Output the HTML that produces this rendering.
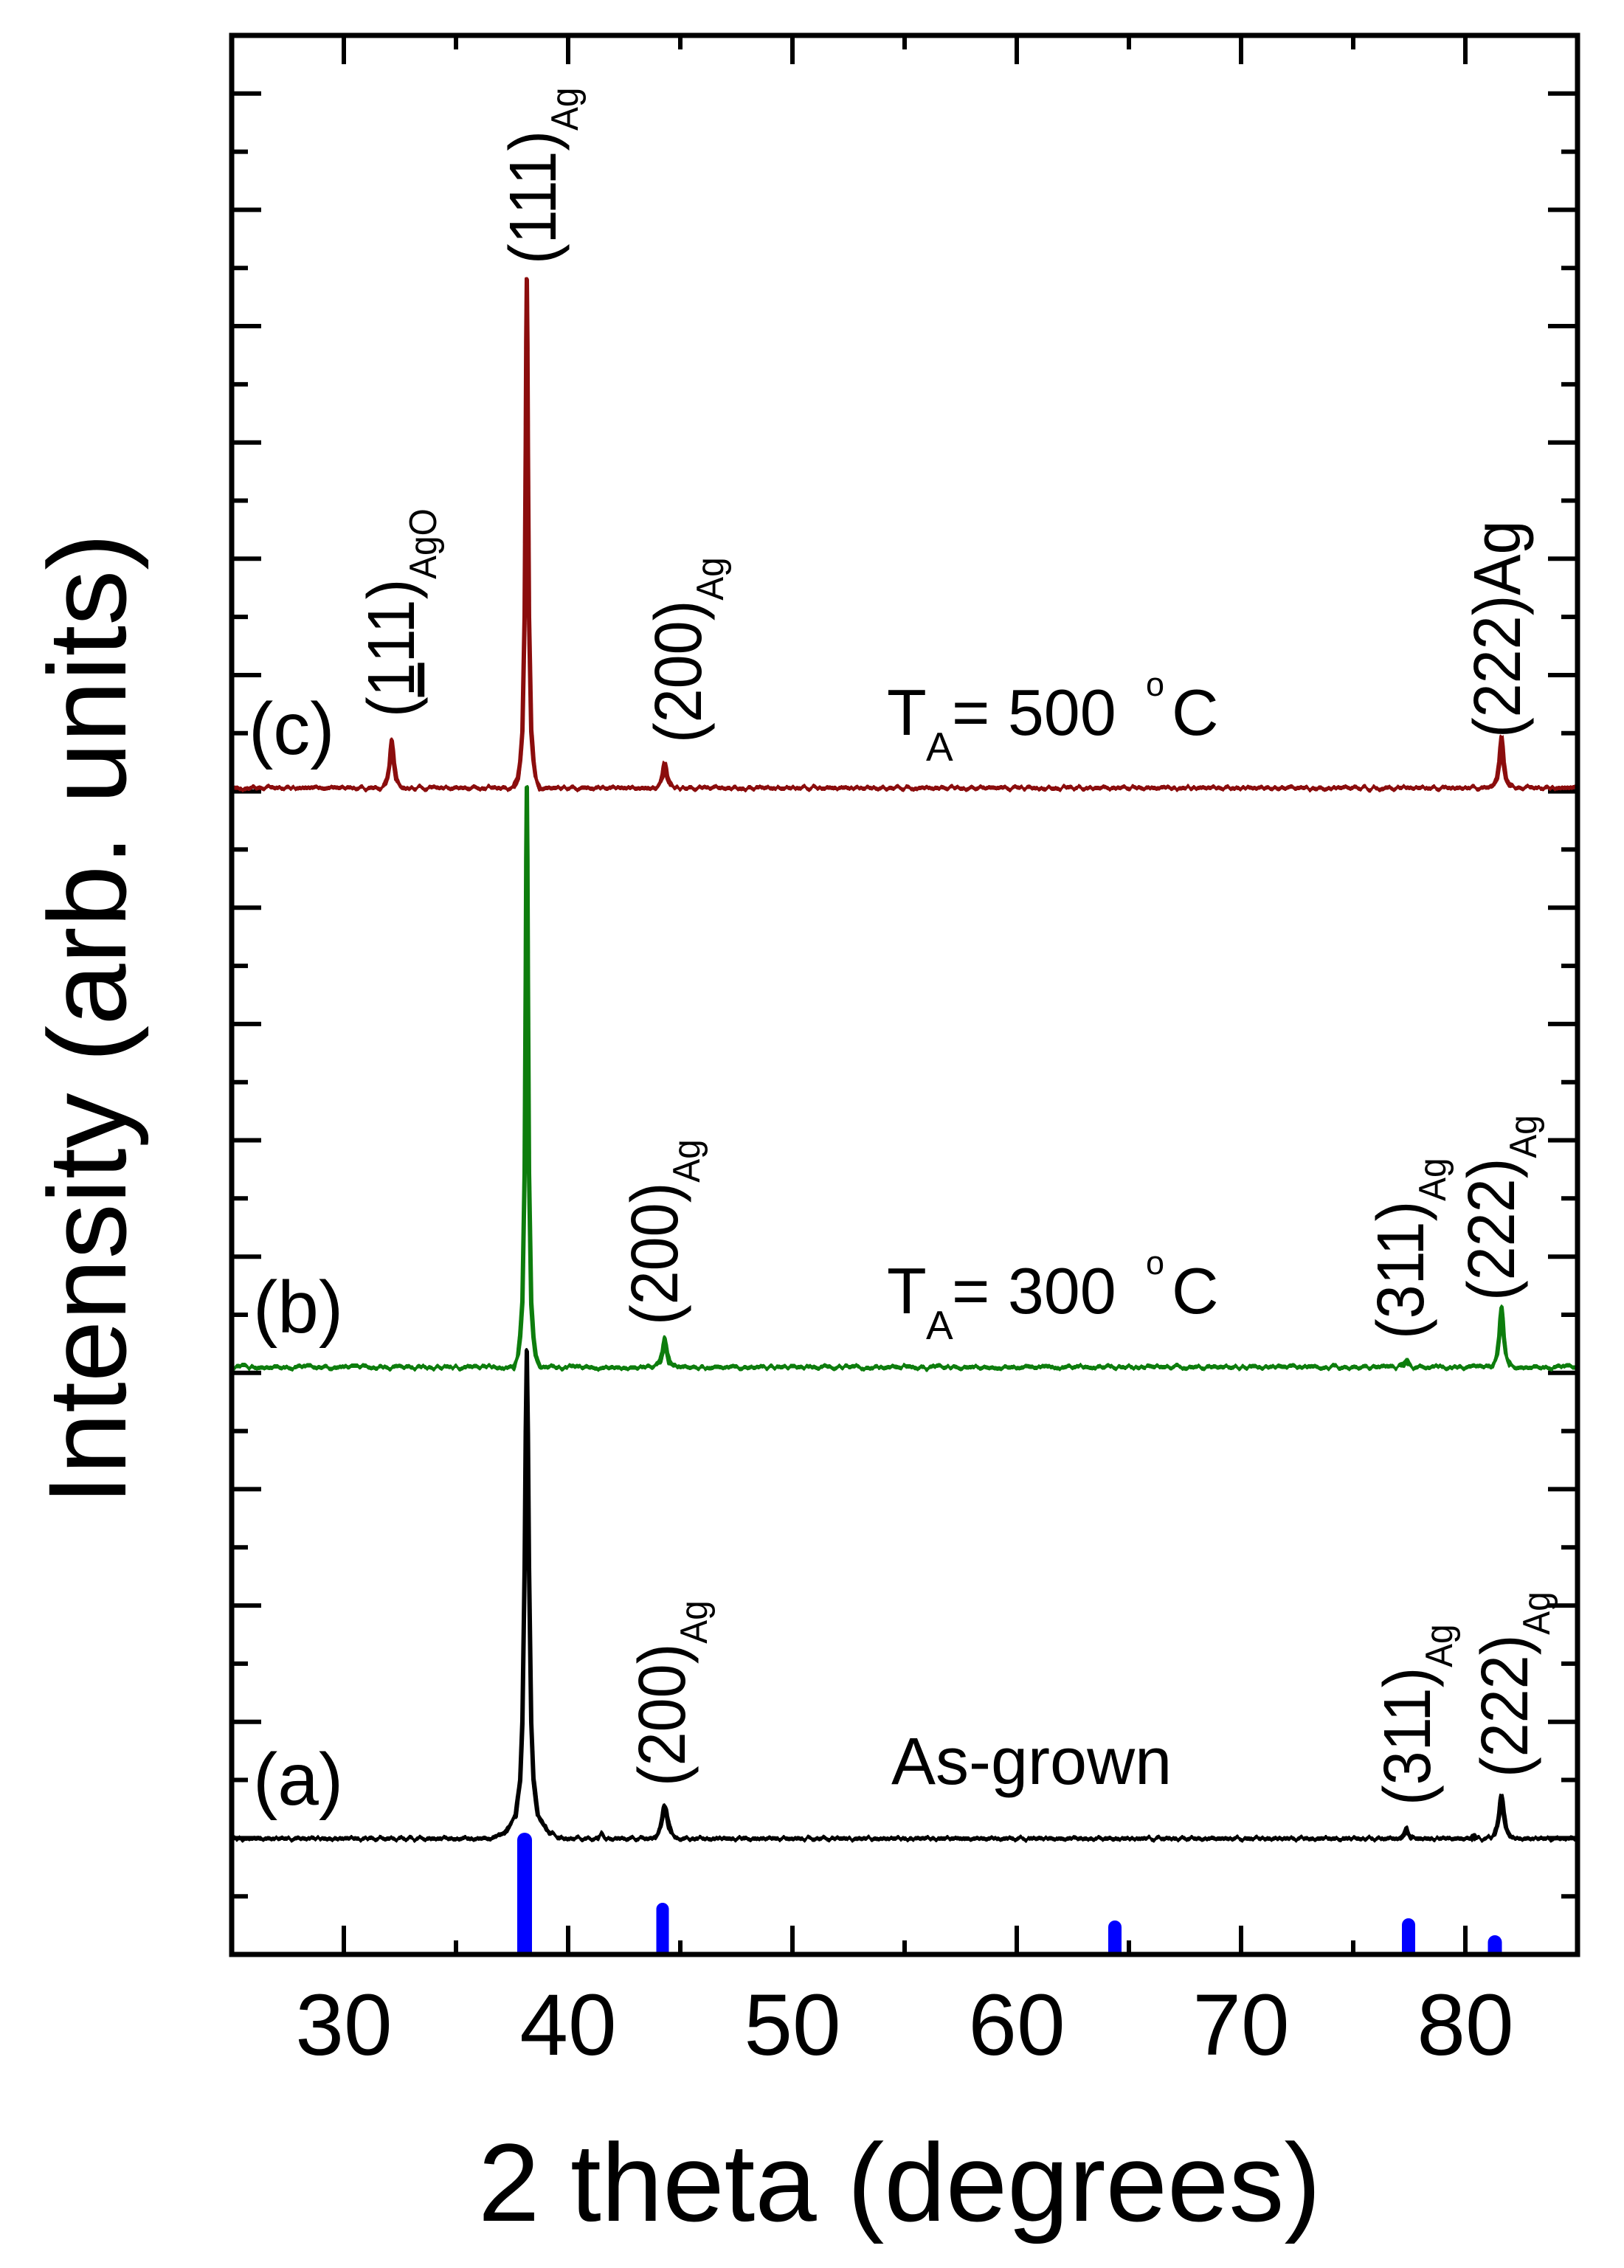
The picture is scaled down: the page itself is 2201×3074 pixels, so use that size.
<!DOCTYPE html>
<html><head><meta charset="utf-8"><style>
html,body{margin:0;padding:0;background:#fff;}
svg{display:block;font-family:"Liberation Sans",Arial,sans-serif;}
</style></head><body>
<svg width="2201" height="3074" viewBox="0 0 2201 3074" xmlns="http://www.w3.org/2000/svg">
<defs>
<filter id="n" filterUnits="userSpaceOnUse" x="0" y="0" width="2201" height="3074">
<feTurbulence type="fractalNoise" baseFrequency="0.15 0.002" numOctaves="2" seed="3" result="t"/>
<feColorMatrix in="t" type="matrix" values="0 0 0 0 0.5  1 0 0 0 0  0 0 0 0 0  0 0 0 0 1" result="m"/>
<feDisplacementMap in="SourceGraphic" in2="m" scale="10" xChannelSelector="R" yChannelSelector="G"/>
</filter>
</defs>
<rect width="2201" height="3074" fill="#fff"/>

<!-- ticks -->
<path stroke="#000" stroke-width="6" fill="none" d="
M466 2649V2610M770 2649V2610M1074 2649V2610M1378 2649V2610M1682 2649V2610M1986 2649V2610
M618 2649V2630M922 2649V2630M1226 2649V2630M1530 2649V2630M1834 2649V2630
M466 48V87M770 48V87M1074 48V87M1378 48V87M1682 48V87M1986 48V87
M618 48V67M922 48V67M1226 48V67M1530 48V67M1834 48V67
M314 2570.2h22M2138 2570.2h-22
M314 2491.4h40M2138 2491.4h-40
M314 2412.5h22M2138 2412.5h-22
M314 2333.7h40M2138 2333.7h-40
M314 2254.9h22M2138 2254.9h-22
M314 2176.1h40M2138 2176.1h-40
M314 2097.3h22M2138 2097.3h-22
M314 2018.4h40M2138 2018.4h-40
M314 1939.6h22M2138 1939.6h-22
M314 1860.8h40M2138 1860.8h-40
M314 1782h22M2138 1782h-22
M314 1703.2h40M2138 1703.2h-40
M314 1624.3h22M2138 1624.3h-22
M314 1545.5h40M2138 1545.5h-40
M314 1466.7h22M2138 1466.7h-22
M314 1387.9h40M2138 1387.9h-40
M314 1309.1h22M2138 1309.1h-22
M314 1230.2h40M2138 1230.2h-40
M314 1151.4h22M2138 1151.4h-22
M314 1072.6h40M2138 1072.6h-40
M314 993.8h22M2138 993.8h-22
M314 915h40M2138 915h-40
M314 836.1h22M2138 836.1h-22
M314 757.3h40M2138 757.3h-40
M314 678.5h22M2138 678.5h-22
M314 599.7h40M2138 599.7h-40
M314 520.9h22M2138 520.9h-22
M314 442h40M2138 442h-40
M314 363.2h22M2138 363.2h-22
M314 284.4h40M2138 284.4h-40
M314 205.6h22M2138 205.6h-22
M314 126.8h40M2138 126.8h-40"/>

<!-- reference bars -->
<g fill="#0000ff">
<path d="M701 2649V2494A10 10 0 0 1 721 2494V2649Z"/>
<path d="M889.5 2649V2587.5A8.5 8.5 0 0 1 906.5 2587.5V2649Z"/>
<path d="M1502 2649V2612A9 9 0 0 1 1520 2612V2649Z"/>
<path d="M1900 2649V2609A9 9 0 0 1 1918 2609V2649Z"/>
<path d="M2016.5 2649V2632.5A9.5 9.5 0 0 1 2035.5 2632.5V2649Z"/>
</g>

<!-- curves -->
<g fill="none" stroke-width="6" stroke-linejoin="round" filter="url(#n)">
<path stroke="#8b0a0a" d="M316 1068L513 1068L519 1065.5L522 1061.5L525 1055L528 1036L529.5 1017L531 1004L532.5 1017L534 1036L537 1055L540 1061.5L543 1065.5L549 1068
L696 1068L702 1054L705 1031L708 991L711 837L712.5 607L713.2 464L714 378L714.8 464L715.5 607L717 837L720 991L723 1031L726 1054L732 1068
L883 1068L889 1067L892 1064.5L895 1061L898 1051L899.5 1041L901 1034L902.5 1041L904 1051L907 1061L910 1064.5L913 1067L919 1068
L2017 1068L2023 1065L2026 1061L2029 1054L2032 1033L2033.5 1012L2035 998L2036.5 1012L2038 1033L2041 1054L2044 1061L2047 1065L2053 1068L2136 1068"/>
<path stroke="#0a7d0a" d="M316 1853L696 1853L702 1837L705 1811L708 1765L711 1590L712.5 1329L713.2 1165L714 1068L714.8 1165L715.5 1329L717 1590L720 1765L723 1811L726 1837L732 1853
L883 1853L889 1851L892 1849L895 1845L898 1833L899.5 1821L901 1813L902.5 1821L904 1833L907 1845L910 1849L913 1851L919 1853
L1898 1853L1903 1849L1906 1843L1909 1849L1914 1853
L2017 1853L2023 1850L2026 1845L2029 1837L2032 1813L2033.5 1790L2035 1775L2036.5 1790L2038 1813L2041 1837L2044 1845L2047 1850L2053 1853L2136 1853"/>
<path stroke="#000" d="M316 2492L666 2492L684 2484L699 2461L705 2412L708 2335L711 2126L712.5 1941L714 1830L715.5 1941L717 2126L720 2335L723 2412L729 2461L744 2484L762 2492
L810 2492L815 2486L820 2492
L883 2492L889 2489L892 2484L895 2477L898 2462L899.5 2452L901 2447L902.5 2452L904 2462L907 2477L910 2484L913 2489L919 2492
L1898 2492L1903 2486L1906 2477L1909 2486L1914 2492L1994 2492L1997 2486L2000 2492
L2017 2492L2023 2489L2026 2484L2029 2476L2032 2456L2033.5 2441L2035 2432L2036.5 2441L2038 2456L2041 2476L2044 2484L2047 2489L2053 2492L2136 2492"/>
</g>

<rect x="314" y="48" width="1824" height="2601" fill="none" stroke="#000" stroke-width="7"/>

<!-- tick labels -->
<g font-size="118" text-anchor="middle" fill="#000">
<text x="466" y="2785">30</text>
<text x="770" y="2785">40</text>
<text x="1074" y="2785">50</text>
<text x="1378" y="2785">60</text>
<text x="1682" y="2785">70</text>
<text x="1986" y="2785">80</text>
</g>
<text x="648" y="3010" font-size="150">2 theta (degrees)</text>
<text transform="translate(170,2040) rotate(-90)" font-size="150">Intensity (arb. units)</text>

<!-- curve labels -->
<g font-size="100">
<text x="337" y="1022">(c)</text>
<text x="343" y="1806">(b)</text>
<text x="343" y="2446">(a)</text>
</g>
<g font-size="88">
<text x="1202" y="996">T</text><text x="1255" y="1031" font-size="55">A</text>
<text x="1290" y="996">= 500</text><text x="1553" y="943" font-size="45">o</text><text x="1588" y="996">C</text>
<text x="1202" y="1780">T</text><text x="1255" y="1815" font-size="55">A</text>
<text x="1290" y="1780">= 300</text><text x="1553" y="1727" font-size="45">o</text><text x="1588" y="1780">C</text>
<text x="1208" y="2418" font-size="90">As-grown</text>
</g>

<!-- rotated peak labels -->
<g font-size="90">
<text transform="translate(561,972) rotate(-90) scale(0.92 1)">(<tspan text-decoration="underline">1</tspan>11)<tspan font-size="52" dy="30">AgO</tspan></text>
<text transform="translate(753,358) rotate(-90) scale(0.92 1)">(111)<tspan font-size="52" dy="30">Ag</tspan></text>
<text transform="translate(950,1007) rotate(-90) scale(0.92 1)">(200)<tspan font-size="52" dy="30">Ag</tspan></text>
<text transform="translate(2060,1000) rotate(-90) scale(0.92 1)">(222)Ag</text>
<text transform="translate(918,1796) rotate(-90) scale(0.92 1)">(200)<tspan font-size="52" dy="30">Ag</tspan></text>
<text transform="translate(1929,1815) rotate(-90) scale(0.92 1)">(311)<tspan font-size="52" dy="30">Ag</tspan></text>
<text transform="translate(2052,1763) rotate(-90) scale(0.92 1)">(222)<tspan font-size="52" dy="30">Ag</tspan></text>
<text transform="translate(928,2421) rotate(-90) scale(0.92 1)">(200)<tspan font-size="52" dy="30">Ag</tspan></text>
<text transform="translate(1938,2447) rotate(-90) scale(0.92 1)">(311)<tspan font-size="52" dy="30">Ag</tspan></text>
<text transform="translate(2070,2409) rotate(-90) scale(0.92 1)">(222)<tspan font-size="52" dy="30">Ag</tspan></text>
</g>
</svg>
</body></html>
